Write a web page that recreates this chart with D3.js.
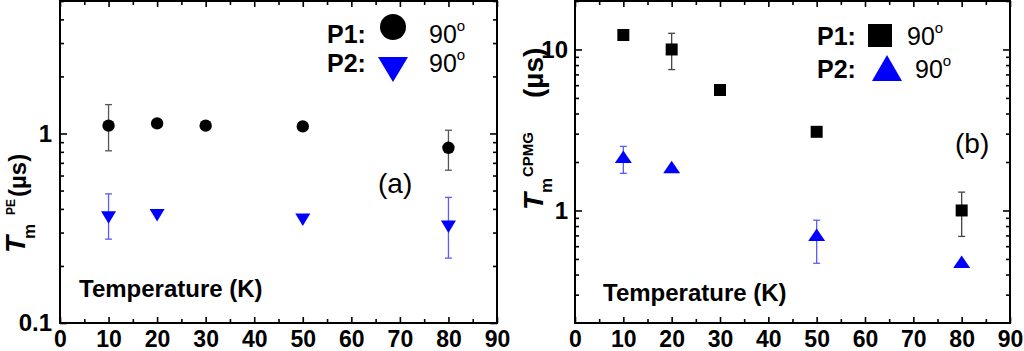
<!DOCTYPE html>
<html>
<head>
<meta charset="utf-8">
<script src="https://cdn.jsdelivr.net/npm/d3@7"></script>
<style>
body { margin: 0; background: #fff; }
text { font-family: "Liberation Sans", Arial, sans-serif; }
</style>
</head>
<body>
<div id="chart"></div>
<script>
// temperatures (K)
const tempsP1 = [10, 20, 30, 50, 80];
const tempsP2 = [10, 20, 50, 80];

// panel (a): Tm PE (us)
const pe1 = [1.10, 1.13, 1.10, 1.09, 0.84];
const pe1Lo = [0.81, null, null, null, 0.64];
const pe1Hi = [1.42, null, null, null, 1.04];
const pe2 = [0.37, 0.38, 0.36, 0.33];
const pe2Lo = [0.277, null, null, 0.22];
const pe2Hi = [0.48, null, null, 0.46];

// panel (b): Tm CPMG (us)
const cp1 = [12.3, 10.0, 5.6, 3.08, 1.0];
const cp1Lo = [null, 7.5, null, null, 0.69];
const cp1Hi = [null, 12.6, null, null, 1.3];
const cp2 = [2.09, 1.81, 0.685, 0.466];
const cp2Lo = [1.7, null, 0.47, null];
const cp2Hi = [2.5, null, 0.87, null];

// ticks
const xMajor = [0, 10, 20, 30, 40, 50, 60, 70, 80, 90];
const xMinor = [5, 15, 25, 35, 45, 55, 65, 75, 85];
const yMajorA = [0.1, 1];
const yMinorA = [0.2, 0.3, 0.4, 0.5, 0.6, 0.7, 0.8, 0.9, 2, 3, 4, 5];
const yMajorB = [1, 10];
const yMinorB = [0.3, 0.4, 0.5, 0.6, 0.7, 0.8, 0.9, 2, 3, 4, 5, 6, 7, 8, 9, 20];

const W = 1024, H = 351;
const svg = d3.select("#chart").append("svg")
    .attr("width", W).attr("height", H)
    .attr("viewBox", [0, 0, W, H]);

function rows(xs, ys, lo, hi) {
    return xs.map((t, i) => ({ t, v: ys[i], lo: lo[i], hi: hi[i] }));
}

function triPath(w, h, up) {
    const s = up ? 1 : -1;
    return `M${-w / 2},${s * h / 3}L${w / 2},${s * h / 3}L0,${-s * 2 * h / 3}Z`;
}

function drawPanel(p) {
    const x = d3.scaleLinear().domain([0, 90]).range([p.x0, p.x1]);
    const y = d3.scaleLog().domain(p.yDomain).range([p.bottom, p.top]);
    const g = svg.append("g");

    const noDomain = s => s.select(".domain").remove();
    const tickStyle = s => s.selectAll(".tick line").attr("stroke", "#000").attr("stroke-width", 1.6);

    // bottom
    g.append("g").attr("transform", `translate(0,${p.bottom})`)
        .call(d3.axisBottom(x).tickValues(xMajor).tickSize(-6).tickPadding(8).tickFormat(d3.format("d")))
        .call(noDomain).call(tickStyle)
        .selectAll("text").attr("font-size", 23).attr("font-weight", "bold").attr("fill", "#000");
    g.append("g").attr("transform", `translate(0,${p.bottom})`)
        .call(d3.axisBottom(x).tickValues(xMinor).tickSize(-4).tickFormat(""))
        .call(noDomain).call(tickStyle);
    // top mirror
    g.append("g").attr("transform", `translate(0,${p.top})`)
        .call(d3.axisTop(x).tickValues(xMajor).tickSize(-6).tickFormat(""))
        .call(noDomain).call(tickStyle);
    g.append("g").attr("transform", `translate(0,${p.top})`)
        .call(d3.axisTop(x).tickValues(xMinor).tickSize(-4).tickFormat(""))
        .call(noDomain).call(tickStyle);
    // left
    g.append("g").attr("transform", `translate(${p.x0},0)`)
        .call(d3.axisLeft(y).tickValues(p.yMajor).tickSize(-7).tickPadding(p.yPad).tickFormat(d => String(d)))
        .call(noDomain).call(tickStyle)
        .selectAll("text").attr("font-size", 24).attr("font-weight", "bold").attr("fill", "#000");
    g.append("g").attr("transform", `translate(${p.x0},0)`)
        .call(d3.axisLeft(y).tickValues(p.yMinor).tickSize(-4).tickFormat(""))
        .call(noDomain).call(tickStyle);
    // right mirror
    g.append("g").attr("transform", `translate(${p.x1},0)`)
        .call(d3.axisRight(y).tickValues(p.yMajor).tickSize(-7).tickFormat(""))
        .call(noDomain).call(tickStyle);
    g.append("g").attr("transform", `translate(${p.x1},0)`)
        .call(d3.axisRight(y).tickValues(p.yMinor).tickSize(-4).tickFormat(""))
        .call(noDomain).call(tickStyle);

    // frame
    g.append("rect")
        .attr("x", p.x0).attr("y", p.top)
        .attr("width", p.x1 - p.x0).attr("height", p.bottom - p.top)
        .attr("fill", "none").attr("stroke", "#000").attr("stroke-width", 2);

    // error bars
    p.series.forEach(s => {
        const eb = s.data.filter(d => d.lo != null);
        const eg = g.append("g").attr("stroke", s.errColor).attr("stroke-width", 1.3);
        eg.selectAll(".v").data(eb).join("line")
            .attr("x1", d => x(d.t)).attr("x2", d => x(d.t))
            .attr("y1", d => y(d.lo)).attr("y2", d => y(d.hi));
        ["lo", "hi"].forEach(k => {
            eg.selectAll(".c" + k).data(eb).join("line")
                .attr("x1", d => x(d.t) - 3.5).attr("x2", d => x(d.t) + 3.5)
                .attr("y1", d => y(d[k])).attr("y2", d => y(d[k]));
        });
    });

    // markers
    p.series.forEach(s => {
        const sel = g.append("g").selectAll("path").data(s.data).join("path")
            .attr("fill", s.color)
            .attr("transform", d => `translate(${x(d.t)},${y(d.v)})`);
        if (s.shape === "circle") sel.attr("d", d3.arc()({ innerRadius: 0, outerRadius: 6.2, startAngle: 0, endAngle: 2 * Math.PI }));
        if (s.shape === "square") sel.attr("d", "M-6,-6H6V6H-6Z");
        if (s.shape === "down") sel.attr("d", triPath(15, 12.5, false));
        if (s.shape === "up") sel.attr("d", triPath(17, 12.5, true));
    });

    // in-plot x label
    g.append("text")
        .attr("x", p.tempX).attr("y", p.tempY)
        .attr("font-size", 24).attr("font-weight", "bold")
        .text("Temperature (K)");

    // panel tag
    g.append("text")
        .attr("x", p.tagX).attr("y", p.tagY)
        .attr("font-size", 28)
        .text(p.tag);

    return g;
}

// ---- panel (a)
const ga = drawPanel({
    x0: 60, x1: 497, top: 1, bottom: 323,
    yDomain: [0.1, 5], yMajor: yMajorA, yMinor: yMinorA, yPad: 8,
    tempX: 79, tempY: 297, tag: "(a)", tagX: 378, tagY: 193,
    series: [
        { data: rows(tempsP1, pe1, pe1Lo, pe1Hi), shape: "circle", color: "#000", errColor: "#555" },
        { data: rows(tempsP2, pe2, pe2Lo, pe2Hi), shape: "down", color: "#0000ff", errColor: "#5a5aff" }
    ]
});

// ---- panel (b)
const gb = drawPanel({
    x0: 575, x1: 1010, top: 1, bottom: 323,
    yDomain: [0.2, 20], yMajor: yMajorB, yMinor: yMinorB, yPad: 7,
    tempX: 603, tempY: 301, tag: "(b)", tagX: 955, tagY: 153,
    series: [
        { data: rows(tempsP1, cp1, cp1Lo, cp1Hi), shape: "square", color: "#000", errColor: "#444" },
        { data: rows(tempsP2, cp2, cp2Lo, cp2Hi), shape: "up", color: "#0000ff", errColor: "#5a5aff" }
    ]
});

// legends
function legendRow(g, lbl, xL, xV, yB) {
    g.append("text").attr("x", xL).attr("y", yB)
        .attr("font-size", 25).attr("font-weight", "bold").text(lbl);
    const t = g.append("text").attr("x", xV).attr("y", yB).attr("font-size", 25);
    t.append("tspan").text("90");
    t.append("tspan").attr("font-size", 15).attr("dy", -12).text("o");
}
legendRow(ga, "P1:", 327, 429, 43);
legendRow(ga, "P2:", 327, 429, 72);
ga.append("circle").attr("cx", 393).attr("cy", 27).attr("r", 13).attr("fill", "#000");
ga.append("path").attr("transform", "translate(393,65.3)").attr("d", triPath(30, 25, false)).attr("fill", "#0000ff");

legendRow(gb, "P1:", 817, 907, 45);
legendRow(gb, "P2:", 817, 915, 78);
gb.append("rect").attr("x", 868).attr("y", 24).attr("width", 24).attr("height", 23).attr("fill", "#000");
gb.append("path").attr("transform", "translate(887,72.3)").attr("d", triPath(30, 26, true)).attr("fill", "#0000ff");

// y-axis titles
const ta = svg.append("text").attr("transform", "translate(25,253) rotate(-90)").attr("font-weight", "bold");
ta.append("tspan").attr("x", 0).attr("y", 0).attr("font-size", 28).attr("font-style", "italic").text("T");
ta.append("tspan").attr("x", 14).attr("y", 10).attr("font-size", 17).text("m");
ta.append("tspan").attr("x", 38).attr("y", -10).attr("font-size", 12).text("PE");
ta.append("tspan").attr("x", 56).attr("y", 1).attr("font-size", 24).text("(\u00b5s)");

const tb = svg.append("text").attr("transform", "translate(543,210) rotate(-90)").attr("font-weight", "bold");
tb.append("tspan").attr("x", 0).attr("y", 0).attr("font-size", 28).attr("font-style", "italic").text("T");
tb.append("tspan").attr("x", 17).attr("y", 9).attr("font-size", 17).text("m");
tb.append("tspan").attr("x", 33).attr("y", -10).attr("font-size", 15).text("CPMG");
tb.append("tspan").attr("x", 112).attr("y", 0).attr("font-size", 28).text("(\u00b5s)");
</script>
</body>
</html>
